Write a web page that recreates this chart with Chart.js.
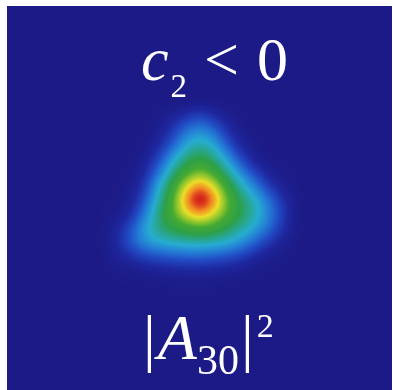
<!DOCTYPE html>
<html>
<head>
<meta charset="utf-8">
<script src="https://cdn.jsdelivr.net/npm/chart.js@4.4.1/dist/chart.umd.min.js"></script>
<style>
  html, body { margin: 0; padding: 0; background: #ffffff; }
  #wrap { position: relative; width: 393px; height: 390px; }
  .lbl {
    position: absolute;
    color: #ffffff;
    font-family: "Liberation Serif", "DejaVu Serif", serif;
    white-space: nowrap;
    line-height: 1;
  }
  .lbl i { font-style: italic; }
  .lbl .sub { position: relative; }
</style>
</head>
<body>
<div id="wrap">
  <canvas id="heat"></canvas>
  <div class="lbl" id="topLabel" style="left:141px; top:28px; font-size:62px;"><i>c</i><span class="sub" style="font-size:33px; top:17px; margin-left:2px;">2</span><span style="margin-left:17px;">&lt;</span><span style="margin-left:18px;">0</span></div>
  <div class="lbl" id="bottomLabel" style="left:143px; top:306px; font-size:64px;"><span>|</span><i style="margin-left:2px;">A</i><span class="sub" style="font-size:42px; top:15px;">30</span><span style="margin-left:2px;">|</span><span class="sub" style="font-size:34px; top:-22px; margin-left:3px;">2</span></div>
</div>
<script>
// sample positions (px offsets from the peak; y grows downward)
const cellX = [-84, -70, -56, -42, -28, -14, 0, 14, 28, 42, 56, 70, 84];
const cellY = [-84, -70, -56, -42, -28, -14, 0, 14, 28, 42, 56, 70, 84];

// |A30|^2, normalised (top to bottom)
const intensity = [
  [0, 0, 0, 0.01, 0.05, 0.11, 0.17, 0.10, 0.03, 0, 0, 0, 0],
  [0, 0, 0, 0.03, 0.12, 0.25, 0.31, 0.24, 0.10, 0.02, 0, 0, 0],
  [0, 0, 0.01, 0.07, 0.20, 0.37, 0.43, 0.37, 0.19, 0.06, 0.01, 0, 0],
  [0, 0, 0.03, 0.15, 0.34, 0.48, 0.55, 0.47, 0.33, 0.15, 0.04, 0, 0],
  [0, 0.01, 0.07, 0.25, 0.45, 0.60, 0.68, 0.60, 0.45, 0.29, 0.14, 0.04, 0.01],
  [0, 0.02, 0.12, 0.37, 0.56, 0.78, 0.90, 0.78, 0.57, 0.42, 0.28, 0.12, 0.04],
  [0.01, 0.04, 0.19, 0.42, 0.61, 0.89, 1.00, 0.90, 0.65, 0.50, 0.39, 0.25, 0.10],
  [0.02, 0.08, 0.27, 0.47, 0.63, 0.79, 0.88, 0.78, 0.63, 0.52, 0.42, 0.28, 0.13],
  [0.06, 0.18, 0.35, 0.47, 0.54, 0.59, 0.62, 0.59, 0.52, 0.44, 0.36, 0.24, 0.10],
  [0.08, 0.20, 0.32, 0.38, 0.41, 0.43, 0.44, 0.42, 0.39, 0.32, 0.22, 0.12, 0.04],
  [0.05, 0.10, 0.16, 0.19, 0.22, 0.23, 0.23, 0.22, 0.19, 0.14, 0.08, 0.03, 0.01],
  [0.01, 0.02, 0.04, 0.05, 0.06, 0.07, 0.07, 0.06, 0.05, 0.03, 0.01, 0, 0],
  [0, 0, 0, 0, 0.01, 0.01, 0.01, 0.01, 0, 0, 0, 0, 0],
];

// jet-like map, navy at the bottom end
const COLOR_STOPS = [
  [0.00, [28, 26, 134]],
  [0.08, [30, 38, 158]],
  [0.18, [33, 75, 196]],
  [0.28, [35, 125, 214]],
  [0.38, [38, 172, 208]],
  [0.46, [40, 166, 140]],
  [0.53, [44, 160, 72]],
  [0.63, [70, 170, 50]],
  [0.71, [150, 200, 45]],
  [0.79, [235, 222, 40]],
  [0.87, [242, 140, 35]],
  [0.94, [212, 30, 26]],
  [1.00, [205, 20, 22]],
];

function rgbFor(v) {
  v = Math.max(0, Math.min(1, v));
  for (let i = 1; i < COLOR_STOPS.length; i++) {
    const [p1, c1] = COLOR_STOPS[i];
    if (v <= p1) {
      const [p0, c0] = COLOR_STOPS[i - 1];
      const t = (v - p0) / (p1 - p0);
      return c0.map((a, k) => Math.round(a + (c1[k] - a) * t));
    }
  }
  return COLOR_STOPS[COLOR_STOPS.length - 1][1];
}

// 256-entry lookup, used when the grey value field is coloured
const LUT = Array.from({ length: 256 }, (_, g) => rgbFor(g / 255));

const cells = [];
cellY.forEach((y, r) => {
  cellX.forEach((x, c) => {
    cells.push({ x, y, v: intensity[r][c] });
  });
});

// cells are drawn as grey levels (value field) on a black area
const areaBackground = {
  id: 'areaBackground',
  beforeDatasetsDraw(chart) {
    const { ctx, chartArea: a } = chart;
    ctx.save();
    ctx.fillStyle = '#000000';
    ctx.fillRect(a.left, a.top, a.right - a.left, a.bottom - a.top);
    ctx.restore();
  },
};

// smooth the value field, then colour it through the map
const colorField = {
  id: 'colorField',
  afterDatasetsDraw(chart) {
    const { ctx, chartArea: a, canvas } = chart;
    const left = Math.round(a.left);
    const top = Math.round(a.top);
    const w = Math.round(a.right - a.left);
    const h = Math.round(a.bottom - a.top);

    const raw = document.createElement('canvas');
    raw.width = w;
    raw.height = h;
    raw.getContext('2d').drawImage(canvas, left, top, w, h, 0, 0, w, h);

    const soft = document.createElement('canvas');
    soft.width = w;
    soft.height = h;
    const sctx = soft.getContext('2d');
    sctx.fillStyle = '#000000';
    sctx.fillRect(0, 0, w, h);
    sctx.filter = 'blur(7px)';
    sctx.drawImage(raw, 0, 0);

    const img = sctx.getImageData(0, 0, w, h);
    const d = img.data;
    for (let i = 0; i < d.length; i += 4) {
      const c = LUT[d[i]];
      d[i] = c[0];
      d[i + 1] = c[1];
      d[i + 2] = c[2];
      d[i + 3] = 255;
    }
    ctx.putImageData(img, left, top);
  },
};

new Chart(document.getElementById('heat'), {
  type: 'scatter',
  data: {
    datasets: [{
      data: cells,
      pointStyle: 'rect',
      pointRadius: 10,
      pointHoverRadius: 10,
      borderWidth: 0,
      pointBackgroundColor: (ctx) => {
        const g = Math.round(255 * (ctx.raw ? ctx.raw.v : 0));
        return `rgb(${g}, ${g}, ${g})`;
      },
    }],
  },
  options: {
    responsive: true,
    maintainAspectRatio: false,
    animation: false,
    devicePixelRatio: 1,
    layout: { autoPadding: false, padding: { left: 7, top: 6, right: 1, bottom: 0 } },
    plugins: { legend: { display: false }, tooltip: { enabled: false } },
    scales: {
      x: { type: 'linear', min: -193, max: 192, display: false },
      y: { type: 'linear', min: -194, max: 190, reverse: true, display: false },
    },
  },
  plugins: [areaBackground, colorField],
});
</script>
</body>
</html>
